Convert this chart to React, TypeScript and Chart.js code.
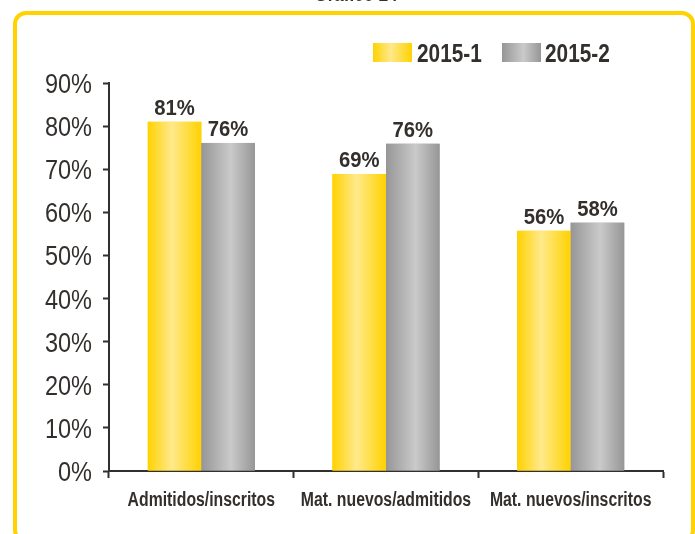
import React, { useEffect, useRef } from "react";
import { Chart, registerables } from "chart.js";
Chart.register(...registerables);

const categories = ["Admitidos/inscritos", "Mat. nuevos/admitidos", "Mat. nuevos/inscritos"];
const seriesNames = ["2015-1", "2015-2"];
const series1 = [81.0, 68.9, 55.7];
const series2 = [76.1, 75.9, 57.6];
const yMin = 0;
const yMax = 90;
const yStep = 10;
const titleText = "Gráfico 24";

const FONT = '"Liberation Sans", Arial, sans-serif';
const TEXT = "#332f2d";
const YELLOW_STOPS: [number, string][] = [[0, "#FFD200"], [0.45, "#FFE98C"], [1, "#FFD200"]];
const GRAY_STOPS: [number, string][] = [[0, "#969696"], [0.55, "#CACACA"], [1, "#969696"]];
const STOPS = [YELLOW_STOPS, GRAY_STOPS];

function drawScaled(ctx: CanvasRenderingContext2D, text: string, x: number, y: number, font: string,
  align: CanvasTextAlign, baseline: CanvasTextBaseline, sx: number) {
  ctx.save();
  ctx.translate(x, y);
  ctx.scale(sx, 1);
  ctx.font = font;
  ctx.fillStyle = TEXT;
  ctx.textAlign = align;
  ctx.textBaseline = baseline;
  ctx.fillText(text, 0, 0);
  ctx.restore();
}

function hGrad(ctx: CanvasRenderingContext2D, left: number, width: number, stops: [number, string][]) {
  const g = ctx.createLinearGradient(left, 0, left + width, 0);
  stops.forEach(([p, c]) => g.addColorStop(p, c));
  return g;
}

const customDraw = {
  id: "customDraw",
  afterDatasetsDraw(chart: any) {
    const ctx: CanvasRenderingContext2D = chart.ctx;
    chart.data.datasets.forEach((ds: any, di: number) => {
      const meta = chart.getDatasetMeta(di);
      meta.data.forEach((el: any, i: number) => {
        const { x, y, base, width } = el.getProps(["x", "y", "base", "width"], true);
        const left = x - width / 2;
        ctx.save();
        ctx.fillStyle = hGrad(ctx, left, width, STOPS[di]);
        ctx.fillRect(left, y, width, base - y);
        ctx.restore();
        drawScaled(ctx, Math.round(ds.data[i]) + "%", x, y - 7, `bold 22.5px ${FONT}`, "center", "alphabetic", 0.9);
      });
    });
  },
  afterDraw(chart: any) {
    const ctx: CanvasRenderingContext2D = chart.ctx;
    const ys = chart.scales.y;
    const xs = chart.scales.x;
    for (let v = yMin; v <= yMax; v += yStep) {
      drawScaled(ctx, v + "%", 92, ys.getPixelForValue(v) + 10, `28px ${FONT}`, "right", "alphabetic", 0.84);
    }
    categories.forEach((c, i) => {
      drawScaled(ctx, c, xs.getPixelForValue(i), 506, `bold 19.5px ${FONT}`, "center", "alphabetic", 0.81);
    });
    const legend = [
      { sx: 373, tx: 417 },
      { sx: 502, tx: 545 },
    ];
    legend.forEach((l, i) => {
      ctx.save();
      ctx.fillStyle = hGrad(ctx, l.sx, 39, STOPS[i]);
      ctx.fillRect(l.sx, 43, 39, 19);
      ctx.restore();
      drawScaled(ctx, seriesNames[i], l.tx, 62, `bold 26px ${FONT}`, "left", "alphabetic", 0.8);
    });
    drawScaled(ctx, titleText, 356, 1, `bold 20px ${FONT}`, "center", "alphabetic", 0.85);
  },
};

function BarChart() {
  const ref = useRef<HTMLCanvasElement | null>(null);
  useEffect(() => {
    if (!ref.current) return;
    const chart = new Chart(ref.current, {
      type: "bar",
      data: {
        labels: categories,
        datasets: [
          { label: seriesNames[0], data: series1, backgroundColor: "#FFD200" },
          { label: seriesNames[1], data: series2, backgroundColor: "#969696" },
        ],
      },
      options: {
        responsive: false,
        animation: false,
        devicePixelRatio: 1,
        layout: { padding: { top: 83, right: 32, bottom: 0, left: 0 } },
        datasets: { bar: { categoryPercentage: 0.58, barPercentage: 1 } },
        plugins: { legend: { display: false }, tooltip: { enabled: false }, title: { display: false } },
        scales: {
          x: {
            afterFit: (s: any) => { s.height = 63; },
            grid: { drawOnChartArea: false, drawTicks: true, tickLength: 7, tickWidth: 2, tickColor: TEXT, offset: true },
            border: { display: true, color: TEXT, width: 2 },
            ticks: { color: "rgba(0,0,0,0)", autoSkip: false, padding: 9, maxRotation: 0, font: { family: FONT, size: 10 } },
          },
          y: {
            min: yMin,
            max: yMax,
            afterFit: (s: any) => { s.width = 109; },
            grid: { drawOnChartArea: false, drawTicks: true, tickLength: 6, tickWidth: 2, tickColor: TEXT },
            border: { display: true, color: TEXT, width: 2 },
            ticks: {
              stepSize: yStep,
              autoSkip: false,
              color: "rgba(0,0,0,0)",
              padding: 11,
              font: { family: FONT, size: 10 },
              callback: (v: any) => v + "%",
            },
          },
        },
      },
      plugins: [customDraw],
    });
    return () => chart.destroy();
  }, []);
  return <canvas ref={ref} width={695} height={534} style={{ position: "absolute", left: 0, top: 0 }} />;
}

export default function App() {
  return (
    <div style={{ position: "fixed", left: 0, top: 0, width: 695, height: 534, background: "#fff", overflow: "hidden" }}>
      <div style={{ position: "absolute", left: 13, top: 11, width: 682, height: 532, border: "4px solid #FFD200", borderRadius: 13, boxSizing: "border-box" }} />
      <BarChart />
    </div>
  );
}
